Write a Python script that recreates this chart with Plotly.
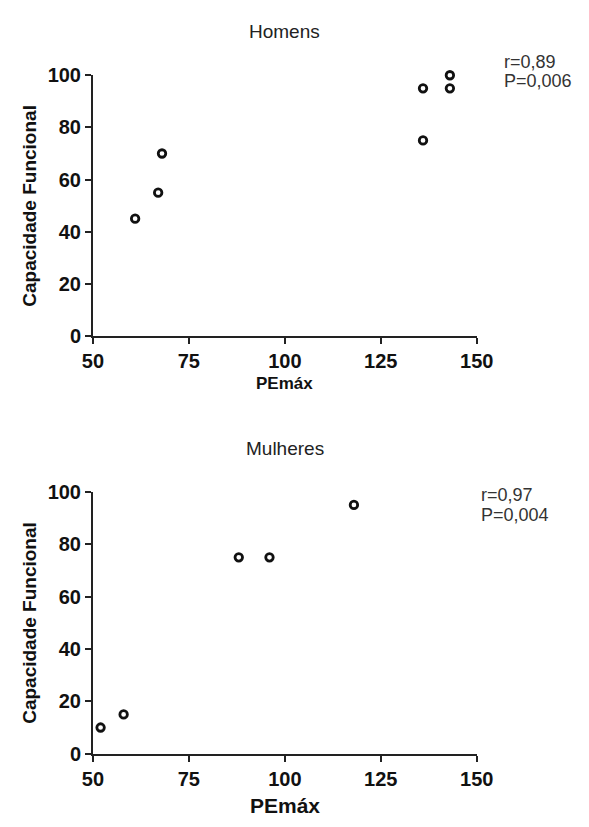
import plotly.graph_objects as go

# ---- data ----
men_pemax = [61, 67, 68, 136, 136, 143, 143]
men_cf = [45, 55, 70, 95, 75, 100, 95]
women_pemax = [52, 58, 88, 96, 118]
women_cf = [10, 15, 75, 75, 95]
x_ticks = [50, 75, 100, 125, 150]
y_ticks = [0, 20, 40, 60, 80, 100]
titles = ["Homens", "Mulheres"]
stats = [["r=0,89", "P=0,006"], ["r=0,97", "P=0,004"]]
x_title = "PEmáx"
y_title = "Capacidade Funcional"

W, H = 589, 827

def px_x(p):
    return p / W

def px_y(p):
    return 1 - p / H

# panel pixel boxes: (left, right, top, bottom)
boxes = [(86, 489, 66, 334), (86, 489, 494, 763)]
stat_pos = [(515, 52, 72), (491, 497, 518)]

fig = go.Figure()
FONT = "Liberation Sans, Arial, sans-serif"
AX = dict(showline=True, linecolor="#222", linewidth=1.8, ticks="outside",
          ticklen=6, tickwidth=1.8, tickcolor="#222", showgrid=False,
          zeroline=False, fixedrange=True,
          tickfont=dict(family=FONT, size=20, color="#111", weight="bold"))

series = [(men_pemax, men_cf), (women_pemax, women_cf)]
annotations = []
for i, ((xs, ys), (l, r, t, b)) in enumerate(zip(series, boxes)):
    xa = "x" if i == 0 else "x2"
    ya = "y" if i == 0 else "y2"
    fig.add_trace(go.Scatter(
        x=xs, y=ys, mode="markers", xaxis=xa, yaxis=ya, cliponaxis=False,
        marker=dict(symbol="circle-open", size=7.5, color="#111",
                    line=dict(width=2.8, color="#111")),
        showlegend=False, hoverinfo="x+y"))
    key = "" if i == 0 else "2"
    fig.update_layout(**{
        "xaxis" + key: dict(AX, domain=[px_x(l), px_x(r)], range=[50, 150],
                            tickvals=x_ticks, anchor=ya),
        "yaxis" + key: dict(AX, domain=[px_y(b), px_y(t)], range=[0, 100],
                            tickvals=y_ticks, anchor=xa),
    })
    cx = (l + r) / 2
    cy = (t + b) / 2
    # panel title
    annotations.append(dict(text=titles[i], x=px_x(cx), y=px_y(t - 45),
                            xref="paper", yref="paper", showarrow=False,
                            xanchor="center", yanchor="middle",
                            font=dict(family=FONT, size=19, color="#222")))
    # x title
    annotations.append(dict(text=x_title, x=px_x(cx),
                            y=px_y(b + (49 if i == 0 else 53)),
                            xref="paper", yref="paper", showarrow=False,
                            xanchor="center", yanchor="middle",
                            font=dict(family=FONT, size=17 if i == 0 else 21,
                                      color="#111", weight="bold")))
    # y title
    annotations.append(dict(text=y_title, x=px_x(20), y=px_y(cy),
                            xref="paper", yref="paper", showarrow=False,
                            textangle=-90, xanchor="center", yanchor="middle",
                            font=dict(family=FONT, size=19, color="#111",
                                      weight="bold")))
    # stats
    sx, sy1, sy2 = stat_pos[i]
    for txt, sy in zip(stats[i], (sy1, sy2)):
        annotations.append(dict(text=txt, x=px_x(sx), y=px_y(sy),
                                xref="paper", yref="paper", showarrow=False,
                                xanchor="left", yanchor="middle", align="left",
                                font=dict(family=FONT, size=18, color="#333")))

fig.update_layout(width=W, height=H, margin=dict(l=0, r=0, t=0, b=0),
                  paper_bgcolor="white", plot_bgcolor="white",
                  annotations=annotations)
fig.write_html("out.html")
